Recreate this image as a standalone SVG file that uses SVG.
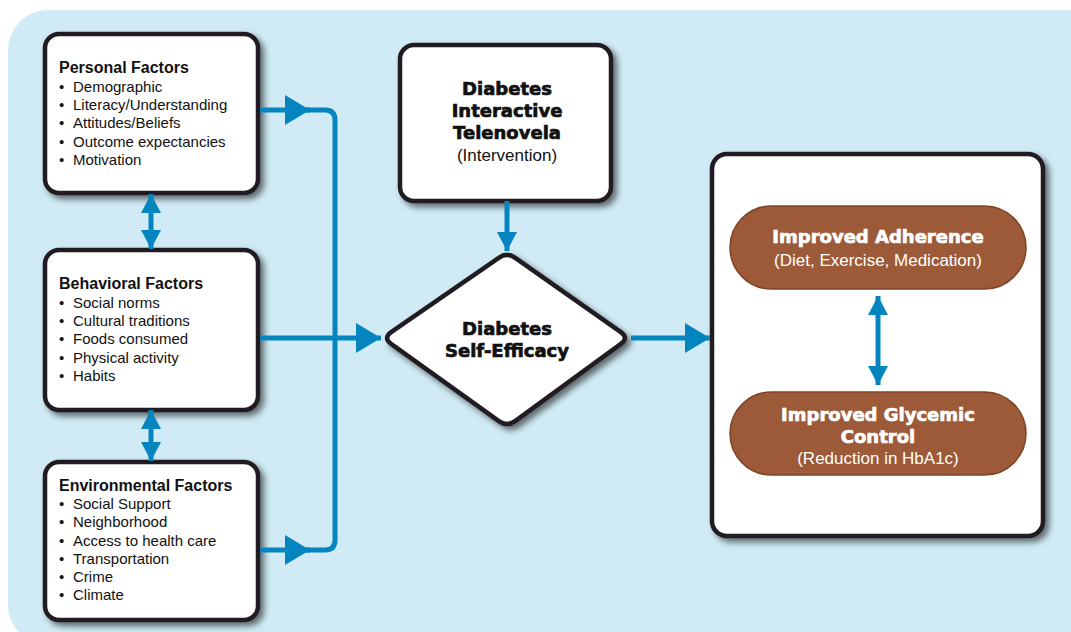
<svg xmlns="http://www.w3.org/2000/svg" width="1071" height="632" viewBox="0 0 1071 632">
<defs>
<filter id="sh" x="-10%" y="-10%" width="130%" height="130%">
<feDropShadow dx="4" dy="4" stdDeviation="3" flood-color="#000" flood-opacity="0.55"/>
</filter>
<marker id="big" markerUnits="userSpaceOnUse" markerWidth="25" markerHeight="30" refX="25" refY="15" orient="auto-start-reverse" viewBox="0 0 25 30">
<path d="M0,0 L25,15 L0,30 Z" fill="#0585c0"/>
</marker>
<marker id="sm" markerUnits="userSpaceOnUse" markerWidth="19" markerHeight="20" refX="19" refY="10" orient="auto-start-reverse" viewBox="0 0 19 20">
<path d="M0,0 L19,10 L0,20 Z" fill="#0585c0"/>
</marker>
</defs>
<style>
.box{fill:#fff;stroke:#231f20;stroke-width:4.5;filter:url(#sh)}
.pill{fill:#9c5a38;stroke:#7e4427;stroke-width:1.5}
.ttl{font-family:"Liberation Sans",Arial,sans-serif;font-weight:bold;font-size:16px;fill:#111}
.li{font-family:"Liberation Sans",Arial,sans-serif;font-size:15px;fill:#111}
.hv{font-family:"DejaVu Sans",sans-serif;font-weight:bold;font-size:18px;text-anchor:middle;fill:#111;stroke:#111;stroke-width:0.7}
.sub{font-family:"Liberation Sans",Arial,sans-serif;font-size:17px;text-anchor:middle;fill:#111}
.w{fill:#fff;stroke:#fff}
.con{fill:none;stroke:#0585c0;stroke-width:5}
</style>
<rect x="8" y="10" width="1100" height="635" rx="40" fill="#d0ebf5"/>

<g id="personal">
<rect class="box" x="45" y="34" width="213" height="159" rx="14"/>
<text class="ttl" x="59" y="73">Personal Factors</text>
<text class="li" x="59" y="92">• <tspan x="73">Demographic</tspan></text>
<text class="li" x="59" y="110">• <tspan x="73">Literacy/Understanding</tspan></text>
<text class="li" x="59" y="128.3">• <tspan x="73">Attitudes/Beliefs</tspan></text>
<text class="li" x="59" y="146.7">• <tspan x="73">Outcome expectancies</tspan></text>
<text class="li" x="59" y="165">• <tspan x="73">Motivation</tspan></text>
</g>

<g id="behavioral">
<rect class="box" x="45" y="250" width="213" height="160" rx="14"/>
<text class="ttl" x="59" y="288.5">Behavioral Factors</text>
<text class="li" x="59" y="307.5">• <tspan x="73">Social norms</tspan></text>
<text class="li" x="59" y="326">• <tspan x="73">Cultural traditions</tspan></text>
<text class="li" x="59" y="344">• <tspan x="73">Foods consumed</tspan></text>
<text class="li" x="59" y="362.5">• <tspan x="73">Physical activity</tspan></text>
<text class="li" x="59" y="381">• <tspan x="73">Habits</tspan></text>
</g>

<g id="environmental">
<rect class="box" x="45" y="462" width="213" height="158" rx="14"/>
<text class="ttl" x="59" y="491">Environmental Factors</text>
<text class="li" x="59" y="509.3">• <tspan x="73">Social Support</tspan></text>
<text class="li" x="59" y="527.3">• <tspan x="73">Neighborhood</tspan></text>
<text class="li" x="59" y="545.5">• <tspan x="73">Access to health care</tspan></text>
<text class="li" x="59" y="563.5">• <tspan x="73">Transportation</tspan></text>
<text class="li" x="59" y="581.7">• <tspan x="73">Crime</tspan></text>
<text class="li" x="59" y="600">• <tspan x="73">Climate</tspan></text>
</g>

<g id="telenovela">
<rect class="box" x="400" y="45" width="211" height="156" rx="14"/>
<text class="hv" x="507" y="95">Diabetes</text>
<text class="hv" x="507" y="117">Interactive</text>
<text class="hv" x="507" y="139">Telenovela</text>
<text class="sub" x="507" y="161">(Intervention)</text>
</g>

<g id="selfefficacy">
<path class="box" d="M498.8,257.8 Q507,252 515.2,257.8 L620.8,332.2 Q629,338 620.9,343.9 L515.1,421.1 Q507,427 498.9,421.1 L391.1,343.9 Q383,338 391.2,332.2 Z"/>
<text class="hv" x="507" y="335">Diabetes</text>
<text class="hv" x="507" y="357">Self-Efficacy</text>
</g>

<g id="outcomes">
<rect class="box" x="712" y="154" width="331" height="382" rx="15"/>
</g>

<g id="adherence">
<rect class="pill" x="730" y="206" width="296" height="83" rx="41.5"/>
<text class="hv w" x="878" y="243">Improved Adherence</text>
<text class="sub w" x="878" y="266" style="stroke:none">(Diet, Exercise, Medication)</text>
</g>

<g id="glycemic">
<rect class="pill" x="730" y="392" width="296" height="83" rx="41.5"/>
<text class="hv w" x="878" y="421">Improved Glycemic</text>
<text class="hv w" x="878" y="443">Control</text>
<text class="sub w" x="878" y="464" style="stroke:none">(Reduction in HbA1c)</text>
</g>

<g id="connectors">
<path class="con" d="M300,110 H325 Q335,110 335,120 V540 Q335,550 325,550 H300"/>
<path class="con" d="M260,110 H310" marker-end="url(#big)"/>
<path class="con" d="M260,550 H310" marker-end="url(#big)"/>
<path class="con" d="M260,338 H381" marker-end="url(#big)"/>
<path class="con" d="M631,338 H710" marker-end="url(#big)"/>
<path class="con" d="M507,201 V251" marker-end="url(#sm)"/>
<path class="con" d="M151,194 V249" marker-start="url(#sm)" marker-end="url(#sm)"/>
<path class="con" d="M151,410 V461" marker-start="url(#sm)" marker-end="url(#sm)"/>
<path class="con" d="M878,296 V385" marker-start="url(#sm)" marker-end="url(#sm)"/>
</g>
</svg>
